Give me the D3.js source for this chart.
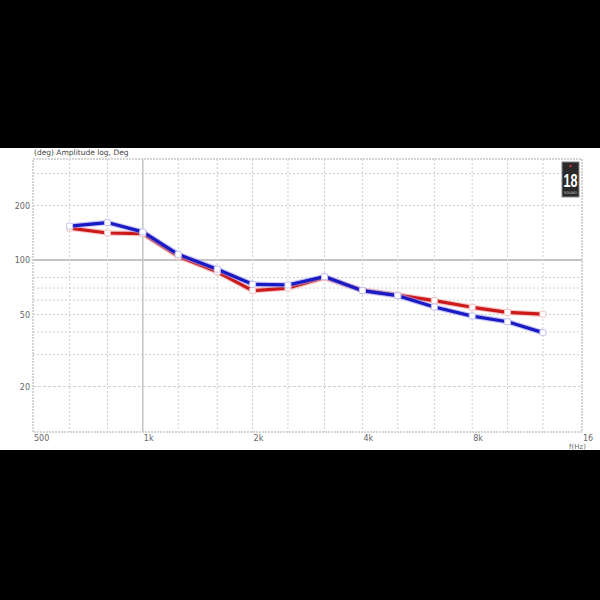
<!DOCTYPE html>
<html><head><meta charset="utf-8">
<script src="https://cdn.jsdelivr.net/npm/d3@7"></script>
<style>body{margin:0;background:#000}svg{display:block}</style>
</head><body>
<script>
const freqs = [630, 800, 1000, 1250, 1600, 2000, 2500, 3150, 4000, 5000, 6300, 8000, 10000, 12500];
const blueValues = [154, 161, 143, 107.5, 89, 73.4, 72.8, 81, 67.7, 63.5, 55, 49, 45.6, 39.7];
const redValues = [150, 141, 140, 105, 86, 67.7, 70, 80, 68, 64, 59.6, 54.8, 51.4, 50.2];
const xGrid = [630, 800, 1000, 1250, 1600, 2000, 2500, 3150, 4000, 5000, 6300, 8000, 10000, 12500];
const xTicks = [[500, "500"], [1000, "1k"], [2000, "2k"], [4000, "4k"], [8000, "8k"], [16000, "16"]];
const yGrid = [30, 40, 50, 60, 70, 80, 100, 200, 300];
const yTicks = [[200, "200"], [100, "100"], [50, "50"], [20, "20"]];

const W = 600, H = 600;
const svg = d3.select("body").append("svg").attr("width", W).attr("height", H);
svg.append("rect").attr("width", W).attr("height", H).attr("fill", "#000");
svg.append("rect").attr("x", 0).attr("y", 148).attr("width", W).attr("height", 302).attr("fill", "#fff");

const L = 33, R = 582, T = 159, B = 432;
const x = d3.scaleLog().domain([500, 16000]).range([L, R]);
const yPerOct = 54.5;
const y = d3.scaleLog().domain([100 / Math.pow(2, (B - 260) / yPerOct), 100 * Math.pow(2, (260 - T) / yPerOct)]).range([B, T]);

const g = svg.append("g");
const font = "DejaVu Sans, sans-serif";
const gridCol = "#cfcfcf";

yGrid.forEach(v => {
  g.append("line").attr("x1", L).attr("x2", R).attr("y1", y(v)).attr("y2", y(v))
    .attr("stroke", v === 100 ? "#c4c4c4" : gridCol).attr("stroke-width", v === 100 ? 2 : 1)
    .attr("stroke-dasharray", v === 100 ? null : "2,2");
});
g.append("line").attr("x1", L).attr("x2", R).attr("y1", y(20)).attr("y2", y(20))
  .attr("stroke", gridCol).attr("stroke-dasharray", "3,2");
xGrid.forEach(v => {
  g.append("line").attr("x1", x(v)).attr("x2", x(v)).attr("y1", T).attr("y2", B)
    .attr("stroke", v === 1000 ? "#c4c4c4" : gridCol).attr("stroke-width", v === 1000 ? 1.5 : 1)
    .attr("stroke-dasharray", v === 1000 ? null : "2,2");
});
g.append("rect").attr("x", L).attr("y", T).attr("width", R - L).attr("height", B - T)
  .attr("fill", "none").attr("stroke", "#c8c8c8").attr("stroke-width", 1.5).attr("stroke-dasharray", "2,1");

yTicks.forEach(([v, t]) => {
  g.append("text").attr("x", L - 3).attr("y", y(v) + 3).attr("text-anchor", "end")
    .attr("font-family", font).attr("font-size", 8).attr("fill", "#666").text(t);
});
xTicks.forEach(([v, t]) => {
  g.append("text").attr("x", x(v) + 1).attr("y", 441).attr("text-anchor", "start")
    .attr("font-family", font).attr("font-size", 8).attr("fill", "#666").text(t);
});
g.append("text").attr("x", 569).attr("y", 449).attr("font-family", font).attr("font-size", 7)
  .attr("fill", "#666").text("f(Hz)");
g.append("text").attr("x", 34).attr("y", 155).attr("font-family", font).attr("font-size", 7.5)
  .attr("fill", "#444").text("(deg)  Amplitude log, Deg");

// logo
g.append("rect").attr("x", 562).attr("y", 162).attr("width", 17).attr("height", 35).attr("fill", "#2a2a2a").attr("stroke", "#888");
g.append("circle").attr("cx", 570.5).attr("cy", 166).attr("r", 1.3).attr("fill", "#c33");
g.append("text").attr("transform", "translate(570.5,187) scale(0.7,1)").attr("text-anchor", "middle")
  .attr("font-family", "Liberation Sans, sans-serif")
  .attr("font-size", 18).attr("font-weight", "bold").attr("fill", "#fff").text("18");
g.append("text").attr("x", 570.5).attr("y", 194).attr("text-anchor", "middle").attr("font-family", font)
  .attr("font-size", 3.5).attr("fill", "#ccc").text("SOUND");

const line = d3.line().x(d => x(d[0])).y(d => y(d[1]));
function drawSeries(vals, color, glow) {
  const pts = freqs.map((f, i) => [f, vals[i]]);
  g.append("path").datum(pts).attr("d", line).attr("fill", "none").attr("stroke", glow)
    .attr("stroke-width", 5.5).attr("stroke-linejoin", "round").attr("opacity", 0.6);
  g.append("path").datum(pts).attr("d", line).attr("fill", "none").attr("stroke", color)
    .attr("stroke-width", 3.2).attr("stroke-linejoin", "round");
  return pts;
}
const redPts = drawSeries(redValues, "#cc1a1a", "#f0a0a0");
const bluePts = drawSeries(blueValues, "#1a1ac4", "#a0a0f0");
[[redPts, "#f0c0c0"], [bluePts, "#c0c0f0"]].forEach(([pts, st]) => {
  g.selectAll(null).data(pts).enter().append("rect")
    .attr("x", d => x(d[0]) - 3).attr("y", d => y(d[1]) - 3).attr("width", 6).attr("height", 6)
    .attr("rx", 1.5).attr("fill", "#fff").attr("stroke", st).attr("stroke-width", 1);
});
</script>
</body></html>
